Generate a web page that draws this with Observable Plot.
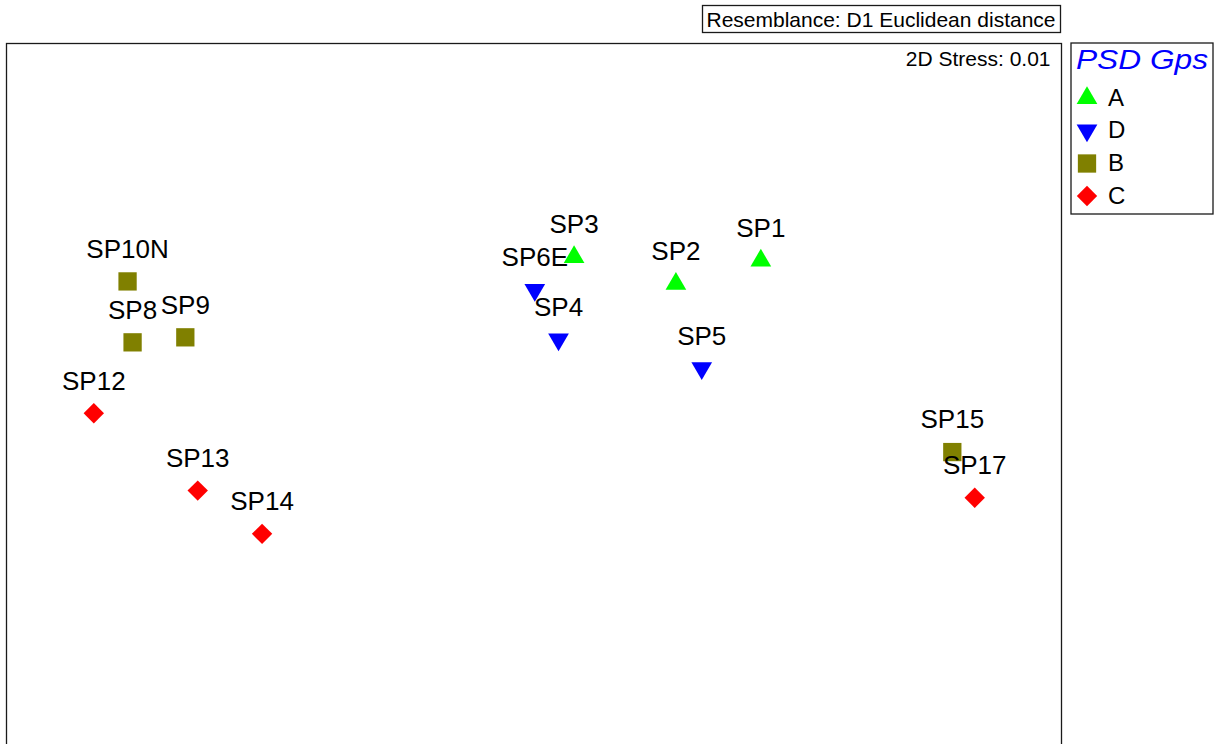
<!DOCTYPE html>
<html>
<head>
<meta charset="utf-8">
<script src="https://cdn.jsdelivr.net/npm/d3@7"></script>
<script src="https://cdn.jsdelivr.net/npm/@observablehq/plot@0.6"></script>
<style>
  html, body { margin: 0; padding: 0; overflow: hidden; background: #fff; }
  #wrap { position: relative; width: 1216px; height: 744px; overflow: hidden; }
  #chart { position: absolute; left: 0; top: 0; }
  #overlay { position: absolute; left: 0; top: 0; pointer-events: none; }
</style>
</head>
<body>
<div id="wrap">
  <div id="chart"></div>
  <svg id="overlay" width="1216" height="744"></svg>
</div>
<script>
// ---- Data (nMDS coordinates) ----
const names  = ["SP1","SP2","SP3","SP4","SP5","SP6E","SP8","SP9","SP10N","SP12","SP13","SP14","SP15","SP17"];
const groups = ["A","A","A","D","D","D","B","B","B","C","C","C","B","C"];
const mds1   = [0.860, 0.538, 0.152, 0.093, 0.636, 0.003, -1.522, -1.322, -1.541, -1.669, -1.275, -1.031, 1.586, 1.671];
const mds2   = [0.177, 0.089, 0.190, -0.122, -0.231, 0.066, -0.133, -0.114, 0.098, -0.402, -0.695, -0.859, -0.549, -0.722];

const groupOrder  = ["A","D","B","C"];
const groupColors = ["#00ff00","#0000ff","#808000","#ff0000"];
const legendTitle = "PSD Gps";
const resemblance = "Resemblance: D1 Euclidean distance";
const stressLabel = "2D Stress: 0.01";

const data = names.map((n, i) => ({name: n, grp: groups[i], mds1: mds1[i], mds2: mds2[i]}));

// ---- Custom symbols (centroid at origin) ----
const TRI_W = 20.7, TRI_H = 17.7, SQ = 18.3, DIA = 20.4;
const triUp = {draw(c) { c.moveTo(0, -2*TRI_H/3); c.lineTo(TRI_W/2, TRI_H/3); c.lineTo(-TRI_W/2, TRI_H/3); c.closePath(); }};
const triDown = {draw(c) { c.moveTo(0, 2*TRI_H/3); c.lineTo(TRI_W/2, -TRI_H/3); c.lineTo(-TRI_W/2, -TRI_H/3); c.closePath(); }};
const square = {draw(c) { const h = SQ/2; c.moveTo(-h,-h); c.lineTo(h,-h); c.lineTo(h,h); c.lineTo(-h,h); c.closePath(); }};
const diamond = {draw(c) { const h = DIA/2; c.moveTo(0,-h); c.lineTo(h,0); c.lineTo(0,h); c.lineTo(-h,0); c.closePath(); }};
const groupSymbols = [triUp, triDown, square, diamond];

const FONT = "'Liberation Sans', Arial, Helvetica, sans-serif";

const chart = Plot.plot({
  width: 1216,
  height: 800,
  marginLeft: 6,
  marginRight: 155,
  marginTop: 43,
  marginBottom: 0,
  x: {domain: [-2, 2], axis: null},
  y: {domain: [-1.870, 1], axis: null},
  color: {domain: groupOrder, range: groupColors},
  symbol: {domain: groupOrder, range: groupSymbols},
  style: {fontFamily: FONT, background: "white", color: "black"},
  marks: [
    Plot.frame({stroke: "#1a1a1a", strokeWidth: 1.3}),
    Plot.dot(data, {x: "mds1", y: "mds2", fill: "grp", symbol: "grp", r: 10}),
    Plot.text(data, {x: "mds1", y: "mds2", text: "name", dy: -32, fontSize: 26, fill: "black"}),
    Plot.text([stressLabel], {text: d => d, frameAnchor: "top-right", lineAnchor: "top", dx: -11, dy: 8, fontSize: 21, fill: "black"})
  ]
});
document.getElementById("chart").appendChild(chart);

// ---- Overlay: resemblance box and legend ----
const svg = d3.select("#overlay");
svg.append("rect").attr("x", 702.5).attr("y", 5.5).attr("width", 358).attr("height", 27)
  .attr("fill", "white").attr("stroke", "#1a1a1a").attr("stroke-width", 1.3);
svg.append("text").attr("x", 881).attr("y", 26.5).attr("text-anchor", "middle")
  .attr("font-family", FONT).attr("font-size", 21).attr("fill", "black").text(resemblance);

const lg = svg.append("g");
lg.append("rect").attr("x", 1071).attr("y", 43).attr("width", 142).attr("height", 171)
  .attr("fill", "white").attr("stroke", "#1a1a1a").attr("stroke-width", 1.3);
lg.append("text").attr("x", 1076).attr("y", 69).attr("font-family", FONT).attr("font-size", 27)
  .attr("font-style", "italic").attr("fill", "#0000ff")
  .attr("textLength", 132).attr("lengthAdjust", "spacingAndGlyphs").text(legendTitle);
const rowY = [97, 129.5, 162.5, 195];
groupOrder.forEach((g, i) => {
  const row = lg.append("g").attr("transform", `translate(0,${rowY[i]})`);
  row.append("path").attr("transform", `translate(1087,1)`)
    .attr("d", d3.symbol(groupSymbols[i])()).attr("fill", groupColors[i]);
  row.append("text").attr("x", 1108).attr("y", 0).attr("dy", "0.36em")
    .attr("font-family", FONT).attr("font-size", 24).attr("fill", "black").text(g);
});
</script>
</body>
</html>
